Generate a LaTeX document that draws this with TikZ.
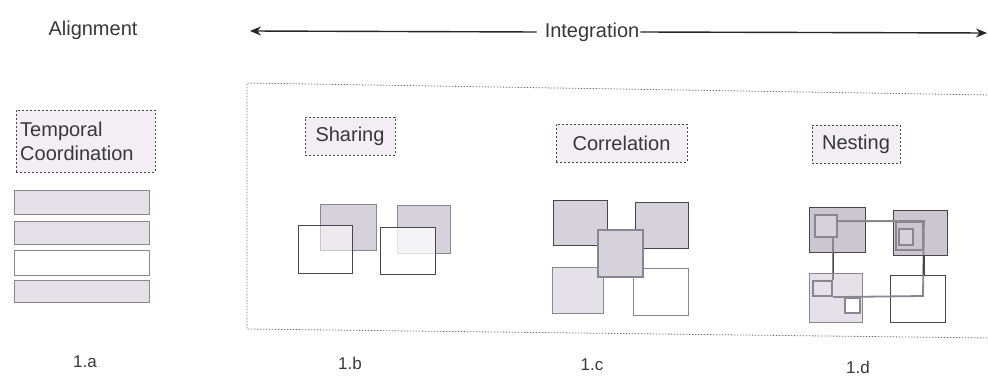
\documentclass[tikz,border=0pt]{standalone}
\usepackage{fontspec}
\setmainfont{Liberation Sans}
\usetikzlibrary{arrows.meta,fit}
\definecolor{lightfill}{RGB}{229,225,233}
\definecolor{midfill}{RGB}{214,210,220}
\definecolor{darkfill}{RGB}{203,199,209}
\definecolor{labelfill}{RGB}{243,238,243}
\definecolor{edge}{RGB}{70,70,76}
\definecolor{inner}{RGB}{138,133,143}
\definecolor{txt}{RGB}{55,55,60}
\definecolor{frame}{RGB}{110,110,125}
\begin{document}
\begin{tikzpicture}[x=1pt,y=-1pt,
  bigtext/.style={font=\fontsize{20}{24}\selectfont, text=txt, inner sep=0pt},
  numtext/.style={font=\fontsize{17}{20}\selectfont, text=txt, inner sep=0pt},
  tagbox/.style={draw=edge, dash pattern=on 2pt off 2pt, fill=labelfill, line width=0.8pt,
    font=\fontsize{20}{24}\selectfont, text=txt, inner sep=0pt},
  sqbox/.style={draw=edge, line width=0.9pt, inner sep=0pt},
  barbox/.style={draw=inner, line width=0.8pt, fill=lightfill, inner sep=0pt},
  innerbox/.style={draw=inner, line width=2.2pt, inner sep=0pt},
  link/.style={draw=inner, line width=1.8pt},
  darklink/.style={draw=edge, line width=1.2pt},
  axis/.style={line width=1.4pt, draw=black!85},
  tip/.style={-{Stealth[length=11pt,width=9pt]}}
]
\useasboundingbox (0,0) rectangle (988,385);

% headings
\node[bigtext] (align) at (93,30) {Alignment};
\node[bigtext] (integ) at (592,32) {Integration};
\coordinate (arrL) at (250,31);
\coordinate (arrR) at (987,33);
\draw[axis,tip] ([xshift=-8pt]integ.west) -- (arrL);
\draw[axis,tip] ([xshift=1pt]integ.east) -- (arrR);

% big dashed frame
\draw[frame, line width=0.8pt, dash pattern=on 1.5pt off 1.5pt]
  (990,95) -- (247,83) -- (247,329) -- (990,338);

% 1.a
\node[tagbox, align=left, fit={(16,110) (155,172)}] (temp) {};
\node[bigtext, align=left, anchor=west] (templbl) at (20,141)
  {\fontsize{20}{27}\selectfont Temporal\\Coordination};
\node[barbox, fit={(14,190) (149,214)}] (bar1) {};
\node[barbox, fit={(14,221) (149,244)}] (bar2) {};
\node[barbox, fill=white, fit={(14,250) (149,275)}] (bar3) {};
\node[barbox, fit={(14,280) (149,302)}] (bar4) {};
\node[numtext] (la) at (85,362) {1.a};

% 1.b Sharing
\node[tagbox, minimum width=90pt, minimum height=38pt] (sharing) at (350,136) {Sharing};
\node[sqbox, draw=inner, fill=midfill, fit={(320,204) (376,250)}] (sb1) {};
\node[sqbox, fill=white, fill opacity=0.55, fit={(298,225) (352,273)}] (sf1) {};
\node[sqbox, draw=inner, fill=midfill, fit={(397,205) (450,253)}] (sb2) {};
\node[sqbox, fill=white, fill opacity=0.75, fit={(380,227) (435,274)}] (sf2) {};
\node[numtext] (lb) at (350,363) {1.b};

% 1.c Correlation
\node[tagbox, minimum width=131pt, minimum height=38pt] (correl) at (621.5,143) {Correlation};
\node[sqbox, fill=midfill, fit={(553,200) (607,245)}] (ctl) {};
\node[sqbox, fill=midfill, fit={(635,202) (688,248)}] (ctr) {};
\node[sqbox, draw=inner, fill=lightfill, fit={(552,267) (603,313)}] (cbl) {};
\node[sqbox, draw=inner, fill=white, fit={(633,268) (688,315)}] (cbr) {};
\node[sqbox, draw=inner, line width=1.4pt, fill=midfill, fit={(598,230) (643,277)}] (cc) {};
\node[numtext] (lc) at (592,365) {1.c};

% 1.d Nesting
\node[tagbox, minimum width=88pt, minimum height=38pt] (nesting) at (856,144) {Nesting};
\node[sqbox, fill=darkfill, fit={(809,207) (865,252)}] (ntl) {};
\node[sqbox, fill=darkfill, fit={(893,210) (947,255)}] (ntr) {};
\node[sqbox, draw=inner, fill=lightfill, fit={(809,273) (862,322)}] (nbl) {};
\node[sqbox, fill=white, fit={(890,275) (945,322)}] (nbr) {};
\node[innerbox, fill=midfill, fit={(815,215) (837,237)}] (ntli) {};
\node[innerbox, line width=1.8pt, fit={(896,222) (923,250)}] (ntrf) {};
\node[innerbox, fill=midfill, fit={(899,229) (913,245)}] (ntri) {};
\node[innerbox, fill=lightfill, fit={(813,281) (832,296)}] (nbli) {};
\node[innerbox, line width=1.6pt, fill=white, fit={(845,298) (860,313)}] (nblw) {};
\coordinate (loopBR) at (923,296);
\draw[link] (ntli.north east |- ntrf.north) -- (ntrf.north east) -- (loopBR) -- (nbli.south east);
\draw[link] (ntli.south -| nbli.east) -- (nbli.north east);
\draw[darklink] (ntl.south -| nbli.east) -- (nbl.north -| nbli.east);
\draw[darklink] (ntr.south -| ntrf.east) -- (nbr.north -| ntrf.east);
\node[numtext] (ld) at (858,367) {1.d};
\end{tikzpicture}
\end{document}
